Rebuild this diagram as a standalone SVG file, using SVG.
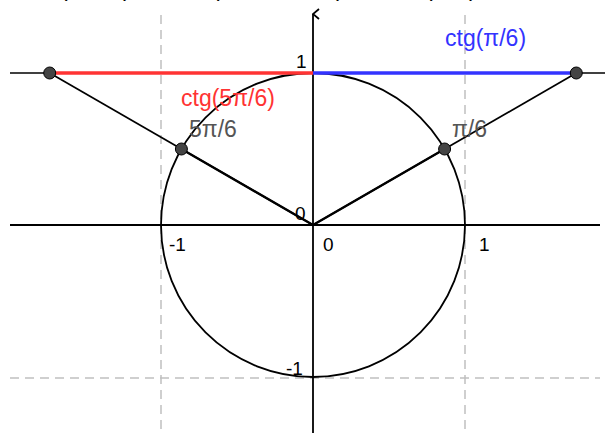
<svg xmlns="http://www.w3.org/2000/svg" width="606" height="433" viewBox="0 0 606 433">
<defs>
<style>
.grid{stroke:#c0c0c0;stroke-width:1.5;stroke-dasharray:9 6;fill:none}
.axis{stroke:#000;stroke-width:1.8;fill:none}
.ln{stroke:#000;stroke-width:1.7;fill:none}
.pt{fill:#444;stroke:#000;stroke-width:1}
.num{font-family:"Liberation Sans",Arial,sans-serif;font-size:19px;fill:#000}
.lbl{font-family:"Liberation Sans",Arial,sans-serif;font-size:23px}
</style>
<marker id="arr" viewBox="0 0 12 12" refX="6" refY="1" markerWidth="12" markerHeight="12" markerUnits="userSpaceOnUse" orient="auto-start-reverse">
<path d="M1,7 L6,1 L11,7" fill="none" stroke="#000" stroke-width="1.8"/>
</marker>
</defs>
<rect width="606" height="433" fill="#fff"/>
<g id="grid">
<line class="grid" x1="161" y1="15" x2="161" y2="433"/>
<line class="grid" x1="465" y1="15" x2="465" y2="433"/>
<line class="grid" x1="10" y1="378" x2="600" y2="378"/>
</g>
<g id="top-cut" class="lbl" fill="#000">
<text x="60" y="-4">(</text><text x="123" y="-4">)</text>
<text x="212" y="-4">(</text><text x="336" y="-4">)</text>
<text x="425" y="-4">(</text><text x="469" y="-4">)</text>
</g>
<g id="axes">
<line class="axis" x1="10" y1="225" x2="600" y2="225"/>
<line class="axis" x1="313" y1="433" x2="313" y2="14" marker-end="url(#arr)"/>
</g>
<g id="circle"><circle cx="313" cy="225" r="152" fill="none" stroke="#000" stroke-width="1.8"/></g>
<g id="connectors">
<line class="ln" x1="10" y1="73" x2="605" y2="73"/>
<line x1="49.7" y1="73" x2="313" y2="73" stroke="#ff3333" stroke-width="3.5"/>
<line x1="313" y1="73" x2="576.3" y2="73" stroke="#3333ff" stroke-width="3.5"/>
<line class="ln" x1="313" y1="225" x2="49.7" y2="73"/>
<line class="ln" x1="313" y1="225" x2="576.3" y2="73"/>
<line x1="313" y1="225" x2="181.4" y2="149" stroke="#000" stroke-width="2.3"/>
<line x1="313" y1="225" x2="444.6" y2="149" stroke="#000" stroke-width="2.3"/>
</g>
<g id="p-ctg5"><circle class="pt" cx="49.7" cy="73" r="6"/></g>
<g id="p-ctg1"><circle class="pt" cx="576.3" cy="73" r="6"/></g>
<g id="p-5pi6"><circle class="pt" cx="181.4" cy="149" r="6"/><text class="lbl" x="189" y="137" fill="#555">5π/6</text></g>
<g id="p-pi6"><circle class="pt" cx="444.6" cy="149" r="6"/><text class="lbl" x="452" y="137" fill="#555">π/6</text></g>
<g id="labels">
<text class="lbl" x="445" y="46" fill="#3333ff">ctg(π/6)</text>
<text class="lbl" x="181" y="106" fill="#ff3333">ctg(5π/6)</text>
<text class="num" x="296" y="68">1</text>
<text class="num" x="295" y="220" font-size="17">0</text>
<text class="num" x="169" y="251">-1</text>
<text class="num" x="323" y="251">0</text>
<text class="num" x="479" y="251">1</text>
<text class="num" x="286" y="375">-1</text>
</g>
</svg>
